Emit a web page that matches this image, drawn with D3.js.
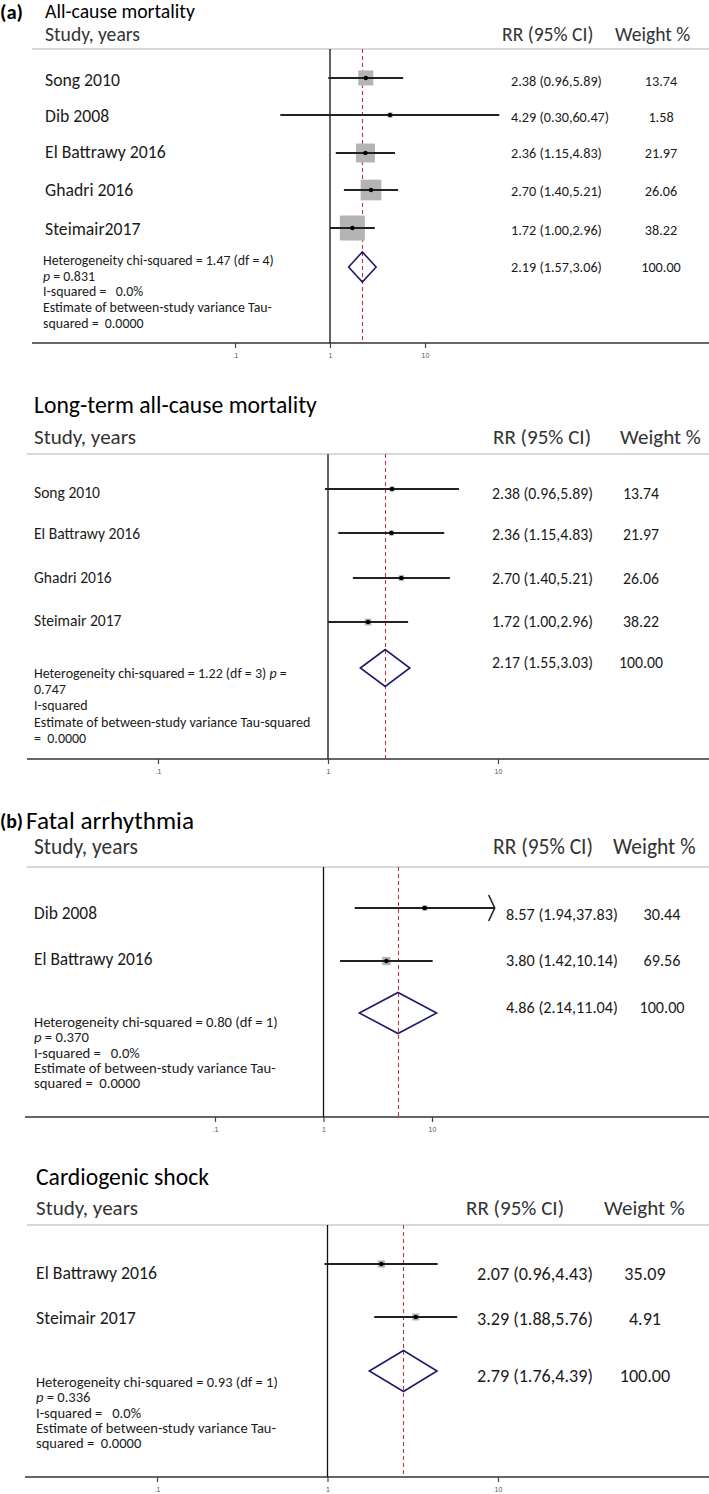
<!DOCTYPE html>
<html><head><meta charset="utf-8">
<script src="https://cdn.jsdelivr.net/npm/d3@7"></script>
<style>body{margin:0;background:#fff} svg{display:block} text{white-space:pre}</style>
</head><body>
<script>
// ---------------- DATA ----------------
const panelTags = ["(a)", "", "(b)", ""];
const panelTitles = ["All-cause mortality", "Long-term all-cause mortality", "Fatal arrhythmia", "Cardiogenic shock"];
const headerLabels = ["Study, years", "RR (95% CI)", "Weight %"];
const tickValues = [0.1, 1, 10];
const tickLabels = [".1", "1", "10"];

const studiesA = ["Song 2010", "Dib 2008", "El Battrawy 2016", "Ghadri 2016", "Steimair2017"];
const rrA = [2.38, 4.29, 2.36, 2.70, 1.72];
const loA = [0.96, 0.30, 1.15, 1.40, 1.00];
const hiA = [5.89, 60.47, 4.83, 5.21, 2.96];
const wtA = [13.74, 1.58, 21.97, 26.06, 38.22];
const pooledA = [2.19, 1.57, 3.06, 100.00];
const hetA = ["Heterogeneity chi-squared = 1.47 (df = 4)", "*p* = 0.831", "I-squared =   0.0%", "Estimate of between-study variance Tau-", "squared =  0.0000"];

const studiesB = ["Song 2010", "El Battrawy 2016", "Ghadri 2016", "Steimair 2017"];
const rrB = [2.38, 2.36, 2.70, 1.72];
const loB = [0.96, 1.15, 1.40, 1.00];
const hiB = [5.89, 4.83, 5.21, 2.96];
const wtB = [13.74, 21.97, 26.06, 38.22];
const pooledB = [2.17, 1.55, 3.03, 100.00];
const hetB = ["Heterogeneity chi-squared = 1.22 (df = 3) *p* =", "0.747", "I-squared", "Estimate of between-study variance Tau-squared", "=  0.0000"];

const studiesC = ["Dib 2008", "El Battrawy 2016"];
const rrC = [8.57, 3.80];
const loC = [1.94, 1.42];
const hiC = [37.83, 10.14];
const wtC = [30.44, 69.56];
const pooledC = [4.86, 2.14, 11.04, 100.00];
const hetC = ["Heterogeneity chi-squared = 0.80 (df = 1)", "*p* = 0.370", "I-squared =   0.0%", "Estimate of between-study variance Tau-", "squared =  0.0000"];

const studiesD = ["El Battrawy 2016", "Steimair 2017"];
const rrD = [2.07, 3.29];
const loD = [0.96, 1.88];
const hiD = [4.43, 5.76];
const wtD = [35.09, 4.91];
const pooledD = [2.79, 1.76, 4.39, 100.00];
const hetD = ["Heterogeneity chi-squared = 0.93 (df = 1)", "*p* = 0.336", "I-squared =   0.0%", "Estimate of between-study variance Tau-", "squared =  0.0000"];

const panels = [
  {studies: studiesA, rr: rrA, lo: loA, hi: hiA, wt: wtA, pooled: pooledA, het: hetA},
  {studies: studiesB, rr: rrB, lo: loB, hi: hiB, wt: wtB, pooled: pooledB, het: hetB},
  {studies: studiesC, rr: rrC, lo: loC, hi: hiC, wt: wtC, pooled: pooledC, het: hetC},
  {studies: studiesD, rr: rrD, lo: loD, hi: hiD, wt: wtD, pooled: pooledD, het: hetD}
];

// ---------------- LAYOUT ----------------
const layouts = [
  { tag:{x:0,y:12,w:23}, title:{x:45,y:11,w:150}, headY:34, headX:[45,502,615], headW:95,
    sepY:49, sepX0:32, markY:[78,115,153,190,228], textY:[80,116,152,190,229],
    labelX:45, labelW:75, valX:511, valW:91, wtX:661, pooledY:267, pooledTextY:267, diamondH:30,
    hetX:43, hetY:260, hetDy:15.7, hetW:231, axisY:343, axisX0:32, range:[235,425],
    boxK:4.05, boxMin:5, ciW:2, arrowAbove:Infinity },
  { tag:null, title:{x:34,y:404,w:283}, headY:437, headX:[34,493,620], headW:102,
    sepY:454, sepX0:27, markY:[489,533,578,622], textY:[492,533,577,620],
    labelX:34, labelW:66, valX:492, valW:101, wtX:641, pooledY:668, pooledTextY:662, diamondH:37,
    hetX:34, hetY:673, hetDy:16.2, hetW:253, axisY:759, axisX0:27, range:[158,498],
    boxK:1.1, boxMin:5, ciW:1.8, arrowAbove:Infinity },
  { tag:{x:0,y:821,w:23}, title:{x:26,y:820,w:168}, headY:847, headX:[34,493,613], headW:104,
    sepY:867, sepX0:27, markY:[908,961], textY:[913,959],
    labelX:34, labelW:63, valX:506, valW:112, wtX:662, pooledY:1013, pooledTextY:1007, diamondH:41,
    hetX:34, hetY:1022, hetDy:15.3, hetW:244, axisY:1117, axisX0:25, range:[215,432],
    boxK:1.0, boxMin:5, ciW:1.8, arrowAbove:30 },
  { tag:null, title:{x:36,y:1176,w:173}, headY:1208, headX:[36,466,604], headW:102,
    sepY:1225, sepX0:27, markY:[1264,1317], textY:[1273,1318],
    labelX:36, labelW:121, valX:477, valW:116, wtX:645, pooledY:1371, pooledTextY:1376, diamondH:41,
    hetX:36, hetY:1382, hetDy:15.3, hetW:242, axisY:1477, axisX0:25, range:[157,498],
    boxK:1.2, boxMin:7, ciW:1.8, arrowAbove:Infinity }
];

// ---------------- DRAW ----------------
const FONT = "Carlito, Lato, 'Open Sans', sans-serif";
const W = 709, H = 1494;
const svg = d3.select("body").append("svg").attr("width", W).attr("height", H);
const f2 = d3.format(".2f");

function stripMarks(s) { return s.replace(/\*/g, ""); }
function fitSize(str, targetW, weight) {
  const t = svg.append("text").attr("font-family", FONT).attr("font-size", 20)
    .attr("font-weight", weight || "normal").text(stripMarks(str));
  const w = t.node().getComputedTextLength();
  t.remove();
  return 20 * targetW / w;
}
function addText(g, str, x, y, size, opts) {
  opts = opts || {};
  const t = g.append("text").attr("x", x).attr("y", y)
    .attr("font-family", FONT).attr("font-size", size)
    .attr("font-weight", opts.weight || "normal")
    .attr("fill", opts.fill || "#1a1a1a")
    .attr("text-anchor", opts.anchor || "start")
    .attr("dominant-baseline", "central");
  const parts = str.split("*");
  parts.forEach((p, k) => {
    if (!p.length) return;
    t.append("tspan").attr("font-style", k % 2 ? "italic" : "normal").text(p);
  });
  return t;
}

panels.forEach((p, i) => {
  const L = layouts[i];
  const g = svg.append("g");
  const x = d3.scaleLog().domain([0.1, 10]).range(L.range);

  // title & tag
  if (L.tag && panelTags[i]) {
    addText(g, panelTags[i], L.tag.x, L.tag.y, fitSize(panelTags[i], L.tag.w, "bold"), {weight: "bold", fill: "#000"});
  }
  addText(g, panelTitles[i], L.title.x, L.title.y, fitSize(panelTitles[i], L.title.w), {fill: "#000"});

  // headers
  const hs = fitSize(headerLabels[0], L.headW);
  headerLabels.forEach((h, k) => addText(g, h, L.headX[k], L.headY, hs, {fill: "#333"}));

  // separator
  g.append("line").attr("x1", L.sepX0).attr("x2", W).attr("y1", L.sepY).attr("y2", L.sepY)
    .attr("stroke", "#cdcdcd").attr("stroke-width", 1.5);

  // axis
  const axis = d3.axisBottom(x).tickValues(tickValues)
    .tickFormat((d, j) => tickLabels[j]).tickSize(5).tickPadding(5);
  const ag = g.append("g").attr("transform", `translate(0,${L.axisY})`).call(axis);
  ag.select(".domain").attr("d", `M${L.axisX0},0H${W}`).attr("stroke", "#333").attr("stroke-width", 1.5);
  ag.selectAll(".tick line").attr("stroke", "#444").attr("stroke-width", 1.2);
  ag.selectAll(".tick text").attr("font-size", 7).attr("fill", "#555")
    .attr("font-family", "'Liberation Sans', Arial, sans-serif");

  // null line at 1
  g.append("line").attr("x1", x(1)).attr("x2", x(1)).attr("y1", L.sepY).attr("y2", L.axisY)
    .attr("stroke", "#111").attr("stroke-width", 1.3);
  // pooled estimate dashed line
  g.append("line").attr("x1", Math.round(x(p.pooled[0])) + 0.5).attr("x2", Math.round(x(p.pooled[0])) + 0.5)
    .attr("y1", L.sepY).attr("y2", L.axisY)
    .attr("stroke", "#c0353a").attr("stroke-width", 1.1).attr("stroke-dasharray", "4,3");

  // study rows
  const ls = fitSize(p.studies[0], L.labelW);
  const valStr0 = `${f2(p.rr[0])} (${f2(p.lo[0])},${f2(p.hi[0])})`;
  const vs = fitSize(valStr0, L.valW);

  p.studies.forEach((s, j) => {
    const my = L.markY[j], ty = L.textY[j];
    addText(g, s, L.labelX, ty, ls);
    const side = Math.max(L.boxMin, L.boxK * Math.sqrt(p.wt[j]));
    g.append("rect").attr("x", x(p.rr[j]) - side / 2).attr("y", my - side / 2)
      .attr("width", side).attr("height", side).attr("fill", "#b4b4b4");
    g.append("line").attr("x1", x(p.lo[j])).attr("x2", x(p.hi[j])).attr("y1", my).attr("y2", my)
      .attr("stroke", "#222").attr("stroke-width", L.ciW);
    if (p.hi[j] > L.arrowAbove) {
      const ax = x(p.hi[j]);
      g.append("path").attr("d", `M${ax - 6},${my - 13}L${ax},${my}L${ax - 6},${my + 13}`)
        .attr("fill", "none").attr("stroke", "#222").attr("stroke-width", 1.6);
    }
    g.append("circle").attr("cx", x(p.rr[j])).attr("cy", my).attr("r", 2.2).attr("fill", "#000");
    addText(g, `${f2(p.rr[j])} (${f2(p.lo[j])},${f2(p.hi[j])})`, L.valX, ty + 1, vs);
    addText(g, f2(p.wt[j]), L.wtX, ty + 1, vs, {anchor: "middle"});
  });

  // pooled diamond
  const [prr, plo, phi, pwt] = p.pooled;
  const cy = L.pooledY, hh = L.diamondH / 2;
  g.append("path")
    .attr("d", `M${x(plo)},${cy}L${x(prr)},${cy - hh}L${x(phi)},${cy}L${x(prr)},${cy + hh}Z`)
    .attr("fill", "none").attr("stroke", "#1c1c6b").attr("stroke-width", 1.6);
  addText(g, `${f2(prr)} (${f2(plo)},${f2(phi)})`, L.valX, L.pooledTextY, vs);
  addText(g, f2(pwt), L.wtX, L.pooledTextY, vs, {anchor: "middle"});

  // heterogeneity text
  const hsz = fitSize(p.het[0], L.hetW);
  p.het.forEach((line, k) => addText(g, line, L.hetX, L.hetY + k * L.hetDy, hsz));
});
</script>
</body></html>
